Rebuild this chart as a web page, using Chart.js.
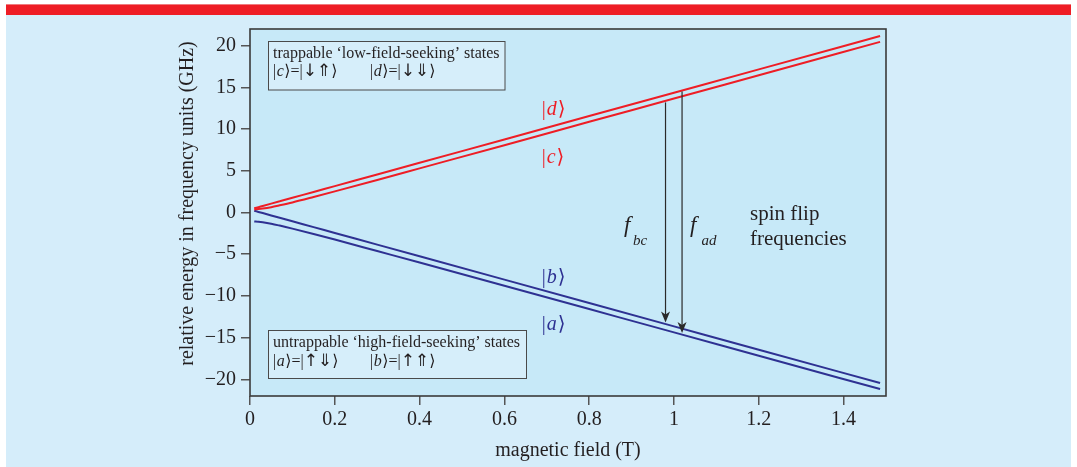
<!DOCTYPE html>
<html><head><meta charset="utf-8">
<script src="https://cdn.jsdelivr.net/npm/chart.js@4.4.1/dist/chart.umd.min.js"></script>
<style>html,body{margin:0;padding:0;background:#fff;overflow:hidden}canvas{display:block}</style>
</head><body>
<canvas id="c" width="1077" height="467"></canvas>
<script>
// magnetic field (T)
const fieldT = [0.01, 0.02, 0.03, 0.05, 0.07, 0.1, 0.15, 0.2, 0.3, 0.4, 0.6, 0.8, 1.0, 1.2, 1.486];
// relative energies (GHz)
const stateD = [0.50, 0.64, 0.78, 1.06, 1.34, 1.76, 2.46, 3.16, 4.56, 5.96, 8.76, 11.56, 14.36, 17.16, 21.16];
const stateC = [0.37, 0.41, 0.47, 0.64, 0.86, 1.21, 1.86, 2.53, 3.90, 5.29, 8.07, 10.87, 13.66, 16.46, 20.46];
const stateB = [0.21, 0.07, -0.07, -0.35, -0.63, -1.05, -1.75, -2.45, -3.85, -5.25, -8.05, -10.85, -13.65, -16.45, -20.45];
const stateA = [-1.08, -1.12, -1.18, -1.35, -1.57, -1.93, -2.57, -3.24, -4.62, -6.00, -8.79, -11.58, -14.37, -17.17, -21.17];
const yTickValues = [-20, -15, -10, -5, 0, 5, 10, 15, 20];
const xTickValues = [0, 0.2, 0.4, 0.6, 0.8, 1, 1.2, 1.4];
// spin flip arrows: field, start energy, tip energy
const arrowField = [0.98, 1.019];
const arrowStart = [13.2, 14.5];
const arrowTip = [-13.2, -14.45];

const RED = '#ee1d25', BLUE = '#2e3192', INK = '#231f20';
const SERIF = "'Liberation Serif','DejaVu Serif','DejaVu Sans',serif";
const ARROWFONT = "'DejaVu Sans','DejaVu Serif',sans-serif";

function pts(ys){ return fieldT.map((b,i)=>({x:b, y:ys[i]})); }
function drawRuns(ctx, x, y, runs, size, color){
  ctx.fillStyle = color; ctx.textBaseline = 'alphabetic'; ctx.textAlign = 'left';
  for (const r of runs){
    ctx.font = (r[1] ? 'italic ' : '') + (r[4] || size) + 'px ' + (r[3] || SERIF);
    ctx.fillText(r[0], x, y);
    x += ctx.measureText(r[0]).width + (r[2] || 0);
  }
}
function ket(letter, spin1, spin2){
  return [['|',false,0.5],[letter,true,0.5],['\u27E9=|',false,0],[spin1,false,0,ARROWFONT,17],[spin2,false,0,ARROWFONT,17],['\u27E9',false]];
}

const deco = {
  id: 'deco',
  beforeDraw(chart){
    const {ctx, chartArea:a} = chart;
    ctx.save();
    ctx.fillStyle = '#ffffff'; ctx.fillRect(0,0,1077,467);
    ctx.fillStyle = '#d5edfa'; ctx.fillRect(6,4,1065,463);
    ctx.fillStyle = RED; ctx.fillRect(6,4,1065,11);
    ctx.fillStyle = '#f07a7e'; ctx.fillRect(6,4,1065,1);
    ctx.fillStyle = '#c7e9f8'; ctx.fillRect(a.left,a.top,a.right-a.left,a.bottom-a.top);
    // y axis title
    ctx.translate(188, 203.5); ctx.rotate(-Math.PI/2);
    ctx.font = '20px ' + SERIF; ctx.fillStyle = INK; ctx.textAlign='center'; ctx.textBaseline='middle';
    ctx.fillText('relative energy in frequency units (GHz)', 0, 0);
    ctx.restore();
  },
  afterDatasetsDraw(chart){
    const {ctx, scales:{x, y}} = chart;
    ctx.save();
    // arrows
    ctx.strokeStyle = '#2a2a2a'; ctx.fillStyle = '#2a2a2a'; ctx.lineWidth = 1.2;
    arrowField.forEach((f,i)=>{
      const px = x.getPixelForValue(f), y0 = y.getPixelForValue(arrowStart[i]), y1 = y.getPixelForValue(arrowTip[i]);
      ctx.beginPath(); ctx.moveTo(px, y0); ctx.lineTo(px, y1-6); ctx.stroke();
      ctx.beginPath(); ctx.moveTo(px, y1); ctx.lineTo(px-4.5, y1-11); ctx.lineTo(px, y1-8); ctx.lineTo(px+4.5, y1-11); ctx.closePath(); ctx.fill();
    });
    // ket labels
    const kx = x.getPixelForValue(0.688);
    [['d',11.69,RED],['c',5.90,RED],['b',-8.49,BLUE],['a',-14.09,BLUE]].forEach(k=>{
      drawRuns(ctx, kx, y.getPixelForValue(k[1]), [['|',false,1],[k[0],true,1],['\u27E9',false]], 20, k[2]);
    });
    // spin flip labels
    drawRuns(ctx, 624, 232, [['f',true]], 23, INK);
    drawRuns(ctx, 633, 245, [['bc',true]], 15, INK);
    drawRuns(ctx, 690, 232, [['f',true]], 23, INK);
    drawRuns(ctx, 701.5, 245, [['ad',true]], 15, INK);
    drawRuns(ctx, 750, 220, [['spin flip',false]], 21, INK);
    drawRuns(ctx, 750, 245, [['frequencies',false]], 21, INK);
    // legend boxes
    ctx.fillStyle = '#d6eefa'; ctx.strokeStyle = '#4a4a4a'; ctx.lineWidth = 1;
    ctx.fillRect(268.5, 41.5, 236.5, 48.5); ctx.strokeRect(268.5, 41.5, 236.5, 48.5);
    ctx.fillRect(268.5, 330.5, 258, 48); ctx.strokeRect(268.5, 330.5, 258, 48);
    drawRuns(ctx, 273, 57.5, [['trappable \u2018low-field-seeking\u2019 states',false]], 16, INK);
    drawRuns(ctx, 273, 76, ket('c','\u2193','\u21D1'), 16, INK);
    drawRuns(ctx, 370, 76, ket('d','\u2193','\u21D3'), 16, INK);
    drawRuns(ctx, 273, 346.5, [['untrappable \u2018high-field-seeking\u2019 states',false]], 16, INK);
    drawRuns(ctx, 273, 365.5, ket('a','\u2191','\u21D3'), 16, INK);
    drawRuns(ctx, 370, 365.5, ket('b','\u2191','\u21D1'), 16, INK);
    ctx.restore();
  },
  afterDraw(chart){
    const {ctx, chartArea:a} = chart;
    ctx.save(); ctx.strokeStyle = '#3a3a3a'; ctx.lineWidth = 1.6;
    ctx.strokeRect(a.left, a.top, a.right-a.left, a.bottom-a.top);
    ctx.restore();
  }
};

const lineDs = (label, ys, color) => ({label, data: pts(ys), borderColor: color, borderWidth: 2, pointRadius: 0, fill: false, cubicInterpolationMode: 'monotone'});

new Chart(document.getElementById('c'), {
  type: 'line',
  data: { datasets: [lineDs('|d⟩', stateD, RED), lineDs('|c⟩', stateC, RED), lineDs('|b⟩', stateB, BLUE), lineDs('|a⟩', stateA, BLUE)] },
  options: {
    responsive: false, animation: false, devicePixelRatio: 1,
    layout: { padding: { left: 0, top: 29, right: 191, bottom: 0 } },
    plugins: { legend: { display: false }, tooltip: { enabled: false } },
    scales: {
      x: {
        type: 'linear', min: 0, max: 1.5,
        afterBuildTicks: s => { s.ticks = xTickValues.map(v => ({value: v})); },
        afterFit: s => { s.height = 71; },
        grid: { drawOnChartArea: false, drawTicks: true, tickLength: 9, color: '#555', lineWidth: 1.5 },
        border: { display: false },
        ticks: { padding: 3, color: INK, font: { family: SERIF, size: 20 }, maxRotation: 0, callback: v => String(Math.round(v*10)/10) },
        title: { display: true, text: 'magnetic field (T)', color: INK, font: { family: SERIF, size: 20 }, padding: { top: 0, bottom: 4 } }
      },
      y: {
        type: 'linear', min: -22, max: 22,
        afterBuildTicks: s => { s.ticks = yTickValues.map(v => ({value: v})); },
        afterFit: s => { s.width = 250; },
        grid: { drawOnChartArea: false, drawTicks: true, tickLength: 9, color: '#555', lineWidth: 1.5 },
        border: { display: false },
        ticks: { padding: 5, color: INK, font: { family: SERIF, size: 20 }, callback: v => v < 0 ? '\u2212' + Math.abs(v) : String(v) }
      }
    }
  },
  plugins: [deco]
});
</script>
</body></html>
